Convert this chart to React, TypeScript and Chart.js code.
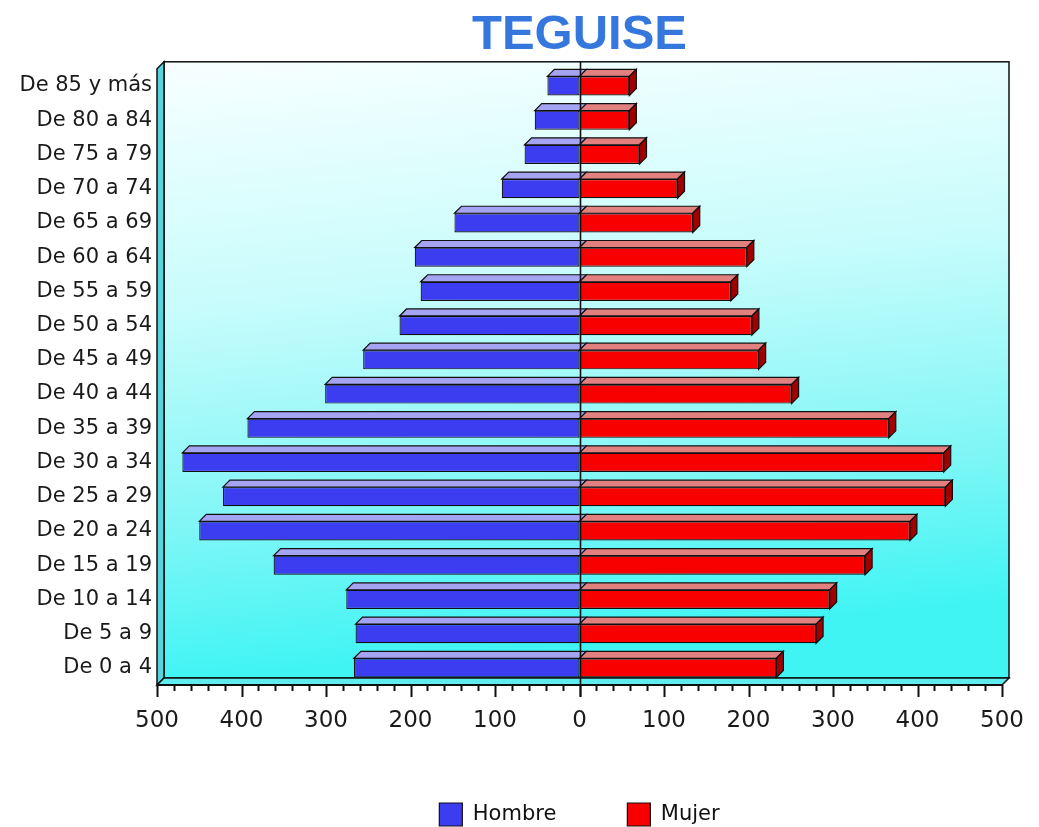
import React, { useEffect, useRef } from 'react';
import { Chart, registerables } from 'chart.js';

Chart.register(...registerables);

// Age groups, bottom (youngest) to top (oldest)
const ageGroups = [
  'De 0 a 4', 'De 5 a 9', 'De 10 a 14', 'De 15 a 19', 'De 20 a 24', 'De 25 a 29',
  'De 30 a 34', 'De 35 a 39', 'De 40 a 44', 'De 45 a 49', 'De 50 a 54', 'De 55 a 59',
  'De 60 a 64', 'De 65 a 69', 'De 70 a 74', 'De 75 a 79', 'De 80 a 84', 'De 85 y más',
];
const hombre = [267, 265, 276, 362, 450, 422, 470, 393, 301, 256, 213, 188, 195, 148, 92, 65, 53, 38];
const mujer = [233, 280, 296, 338, 391, 433, 431, 366, 251, 212, 204, 179, 198, 134, 116, 71, 59, 59];
const seriesNames = ['Hombre', 'Mujer'];
const axisMin = -500;
const axisMax = 500;
const majorStep = 100;
const minorStep = 20;

const DEPTH = 7;
const FONT = 'DejaVu Sans';

const faceColors = [
  { front: '#3c3cf0', top: '#a4a4f2', side: '#1c1ca0' },
  { front: '#f80000', top: '#e28080', side: '#a00000' },
];

const pyramid3d = {
  id: 'pyramid3d',
  beforeDatasetsDraw(chart: any) {
    const { ctx, chartArea: a } = chart;
    const d = DEPTH;
    ctx.save();
    ctx.lineWidth = 1.5;
    ctx.strokeStyle = '#101010';
    // back wall
    const g = ctx.createLinearGradient(a.left, a.top - d, a.left + 60, a.bottom - d);
    g.addColorStop(0, '#f8ffff');
    g.addColorStop(0.4, '#c8fcfc');
    g.addColorStop(0.75, '#80f6f6');
    g.addColorStop(1, '#40f4f4');
    ctx.fillStyle = g;
    ctx.fillRect(a.left + d, a.top - d, a.right - a.left, a.bottom - a.top);
    ctx.strokeRect(a.left + d, a.top - d, a.right - a.left, a.bottom - a.top);
    // left wall
    ctx.beginPath();
    ctx.moveTo(a.left, a.top);
    ctx.lineTo(a.left + d, a.top - d);
    ctx.lineTo(a.left + d, a.bottom - d);
    ctx.lineTo(a.left, a.bottom);
    ctx.closePath();
    ctx.fillStyle = '#58d4dc';
    ctx.fill();
    ctx.stroke();
    // floor
    ctx.beginPath();
    ctx.moveTo(a.left, a.bottom);
    ctx.lineTo(a.left + d, a.bottom - d);
    ctx.lineTo(a.right + d, a.bottom - d);
    ctx.lineTo(a.right, a.bottom);
    ctx.closePath();
    ctx.fillStyle = '#5eecee';
    ctx.fill();
    ctx.stroke();
    // axis ticks on the floor edge
    const xs = chart.scales.x;
    ctx.beginPath();
    ctx.moveTo(a.left, a.bottom);
    ctx.lineTo(a.right, a.bottom);
    for (let v = axisMin; v <= axisMax; v += minorStep) {
      const px = Math.round(xs.getPixelForValue(v)) + 0.5;
      const len = v % majorStep === 0 ? 12 : 6;
      ctx.moveTo(px, a.bottom);
      ctx.lineTo(px, a.bottom + len);
    }
    ctx.lineWidth = 2;
    ctx.strokeStyle = '#101010';
    ctx.stroke();
    ctx.restore();
  },
  afterDatasetsDraw(chart: any) {
    const { ctx, chartArea: a } = chart;
    const d = DEPTH;
    ctx.save();
    ctx.lineWidth = 1.2;
    ctx.strokeStyle = '#101010';
    chart.data.datasets.forEach((ds: any, i: number) => {
      const meta = chart.getDatasetMeta(i);
      const c = faceColors[i];
      meta.data.forEach((bar: any) => {
        const { x, y, base, height } = bar.getProps(['x', 'y', 'base', 'height'], true);
        const left = Math.min(x, base);
        const right = Math.max(x, base);
        const top = y - height / 2;
        const bottom = y + height / 2;
        // top face
        ctx.beginPath();
        ctx.moveTo(left, top);
        ctx.lineTo(left + d, top - d);
        ctx.lineTo(right + d, top - d);
        ctx.lineTo(right, top);
        ctx.closePath();
        ctx.fillStyle = c.top;
        ctx.fill();
        ctx.stroke();
        if (i === 1) {
          // right side face
          ctx.beginPath();
          ctx.moveTo(right, top);
          ctx.lineTo(right + d, top - d);
          ctx.lineTo(right + d, bottom - d);
          ctx.lineTo(right, bottom);
          ctx.closePath();
          ctx.fillStyle = c.side;
          ctx.fill();
          ctx.stroke();
        }
      });
    });
    // zero line
    const zx = Math.round(chart.scales.x.getPixelForValue(0)) + 0.5;
    ctx.beginPath();
    ctx.moveTo(zx, a.top - d);
    ctx.lineTo(zx, a.bottom + 12);
    ctx.lineWidth = 1.6;
    ctx.strokeStyle = '#101010';
    ctx.stroke();
    ctx.restore();
  },
};

export default function App() {
  const ref = useRef<HTMLCanvasElement>(null);

  useEffect(() => {
    if (!ref.current) return;
    const chart = new Chart(ref.current, {
      type: 'bar',
      data: {
        labels: ageGroups,
        datasets: [
          {
            label: seriesNames[0],
            data: hombre.map((v) => -v),
            backgroundColor: faceColors[0].front,
            borderColor: '#101010',
            borderWidth: 1.2,
            borderSkipped: false,
          },
          {
            label: seriesNames[1],
            data: mujer,
            backgroundColor: faceColors[1].front,
            borderColor: '#101010',
            borderWidth: 1.2,
            borderSkipped: false,
          },
        ],
      },
      options: {
        indexAxis: 'y',
        responsive: false,
        animation: false,
        layout: { padding: { left: 0, right: 37, top: 0, bottom: 0 } },
        datasets: { bar: { barPercentage: 0.56, categoryPercentage: 1 } },
        scales: {
          x: {
            type: 'linear',
            min: axisMin,
            max: axisMax,
            stacked: true,
            grid: { display: false, drawTicks: false },
            border: { display: false },
            ticks: {
              stepSize: majorStep,
              padding: 13,
              maxRotation: 0,
              autoSkip: false,
              color: '#1a1a1a',
              font: { family: FONT, size: 23, lineHeight: 2 },
              callback: (v: any) => String(Math.abs(Number(v))),
            },
            afterFit: (s: any) => { s.height = 47; },
          },
          y: {
            type: 'category',
            reverse: true,
            stacked: true,
            grid: { display: false, drawTicks: false },
            border: { display: false },
            ticks: {
              padding: 5,
              autoSkip: false,
              color: '#1a1a1a',
              font: { family: FONT, size: 21 },
            },
            afterFit: (s: any) => { s.width = 157; },
          },
        },
        plugins: {
          title: {
            display: true,
            text: 'TEGUISE',
            fullSize: false,
            color: '#3577dd',
            font: { family: 'Liberation Sans', size: 49, weight: 'bold' },
            padding: { top: 6, bottom: 4 },
          },
          legend: {
            position: 'bottom',
            fullSize: false,
            maxHeight: 95,
            labels: {
              boxWidth: 23,
              boxHeight: 23,
              padding: 71,
              color: '#111',
              font: { family: FONT, size: 21 },
            },
          },
          tooltip: { enabled: false },
        },
      },
      plugins: [pyramid3d],
    });
    return () => chart.destroy();
  }, []);

  return (
    <canvas
      ref={ref}
      width={1039}
      height={827}
      style={{ position: 'absolute', left: 0, top: 0 }}
    />
  );
}
